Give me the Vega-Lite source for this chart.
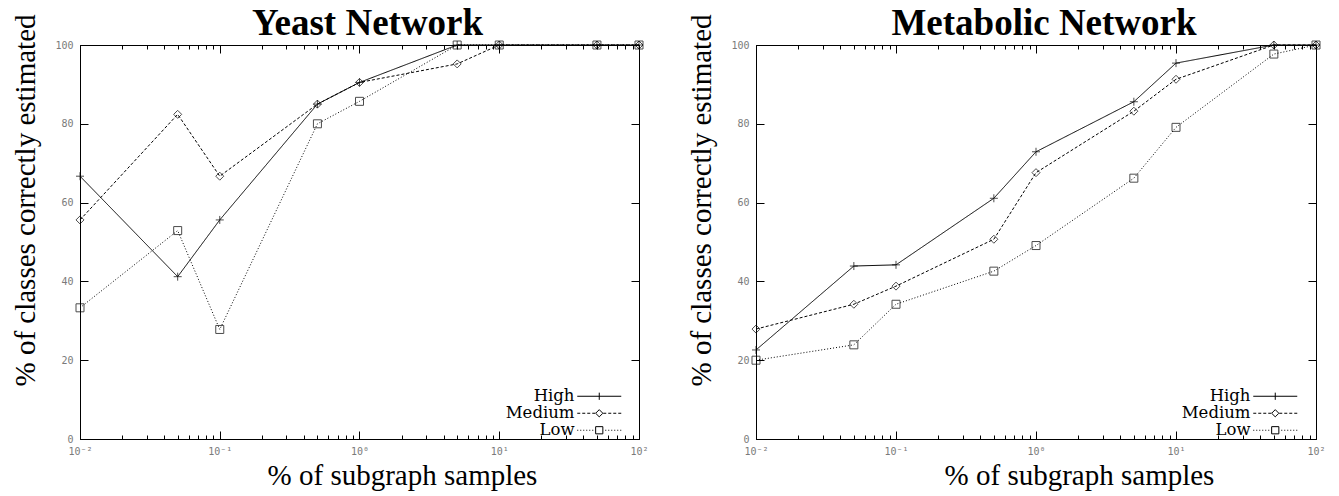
{
  "$schema": "https://vega.github.io/schema/vega-lite/v6.json",
  "padding": {"left": 11, "top": 4, "right": 0, "bottom": 0},
  "background": "white",
  "datasets": {
    "yeast": [
      {"pct": 0.01, "acc": 66.7, "level": "High"},
      {"pct": 0.05, "acc": 41.2, "level": "High"},
      {"pct": 0.1, "acc": 55.6, "level": "High"},
      {"pct": 0.5, "acc": 85.0, "level": "High"},
      {"pct": 1, "acc": 90.5, "level": "High"},
      {"pct": 5, "acc": 100, "level": "High"},
      {"pct": 10, "acc": 100, "level": "High"},
      {"pct": 50, "acc": 100, "level": "High"},
      {"pct": 100, "acc": 100, "level": "High"},
      {"pct": 0.01, "acc": 55.6, "level": "Medium"},
      {"pct": 0.05, "acc": 82.4, "level": "Medium"},
      {"pct": 0.1, "acc": 66.7, "level": "Medium"},
      {"pct": 0.5, "acc": 85.0, "level": "Medium"},
      {"pct": 1, "acc": 90.5, "level": "Medium"},
      {"pct": 5, "acc": 95.2, "level": "Medium"},
      {"pct": 10, "acc": 100, "level": "Medium"},
      {"pct": 50, "acc": 100, "level": "Medium"},
      {"pct": 100, "acc": 100, "level": "Medium"},
      {"pct": 0.01, "acc": 33.3, "level": "Low"},
      {"pct": 0.05, "acc": 52.9, "level": "Low"},
      {"pct": 0.1, "acc": 27.8, "level": "Low"},
      {"pct": 0.5, "acc": 80.0, "level": "Low"},
      {"pct": 1, "acc": 85.7, "level": "Low"},
      {"pct": 5, "acc": 100, "level": "Low"},
      {"pct": 10, "acc": 100, "level": "Low"},
      {"pct": 50, "acc": 100, "level": "Low"},
      {"pct": 100, "acc": 100, "level": "Low"}
    ],
    "metabolic": [
      {"pct": 0.01, "acc": 22.6, "level": "High"},
      {"pct": 0.05, "acc": 43.9, "level": "High"},
      {"pct": 0.1, "acc": 44.2, "level": "High"},
      {"pct": 0.5, "acc": 61.1, "level": "High"},
      {"pct": 1, "acc": 72.9, "level": "High"},
      {"pct": 5, "acc": 85.6, "level": "High"},
      {"pct": 10, "acc": 95.4, "level": "High"},
      {"pct": 50, "acc": 100, "level": "High"},
      {"pct": 100, "acc": 100, "level": "High"},
      {"pct": 0.01, "acc": 27.9, "level": "Medium"},
      {"pct": 0.05, "acc": 34.2, "level": "Medium"},
      {"pct": 0.1, "acc": 38.8, "level": "Medium"},
      {"pct": 0.5, "acc": 50.7, "level": "Medium"},
      {"pct": 1, "acc": 67.6, "level": "Medium"},
      {"pct": 5, "acc": 83.2, "level": "Medium"},
      {"pct": 10, "acc": 91.3, "level": "Medium"},
      {"pct": 50, "acc": 100, "level": "Medium"},
      {"pct": 100, "acc": 100, "level": "Medium"},
      {"pct": 0.01, "acc": 20.0, "level": "Low"},
      {"pct": 0.05, "acc": 23.9, "level": "Low"},
      {"pct": 0.1, "acc": 34.2, "level": "Low"},
      {"pct": 0.5, "acc": 42.6, "level": "Low"},
      {"pct": 1, "acc": 49.1, "level": "Low"},
      {"pct": 5, "acc": 66.2, "level": "Low"},
      {"pct": 10, "acc": 79.1, "level": "Low"},
      {"pct": 50, "acc": 97.7, "level": "Low"},
      {"pct": 100, "acc": 100, "level": "Low"}
    ]
  },
  "config": {
    "view": {"stroke": "black", "strokeWidth": 1},
    "axis": {
      "grid": false,
      "domainColor": "black",
      "domainWidth": 1,
      "tickColor": "black",
      "tickWidth": 1,
      "labelColor": "#7a7a7a",
      "labelFont": "DejaVu Sans Mono",
      "labelFontSize": 10,
      "titleFont": "Liberation Serif",
      "titleFontSize": 29,
      "titleFontWeight": "normal",
      "titleColor": "black"
    },
    "title": {"font": "Liberation Serif", "fontSize": 37, "fontWeight": "bold", "color": "black", "offset": -29}
  },
  "spacing": 32,
  "resolve": {"scale": {"shape": "independent", "strokeDash": "independent"}, "legend": {"shape": "independent"}},
  "hconcat": [
    {
      "title": {"text": "Yeast Network", "dx": 8, "font": "Liberation Serif"},
      "width": 559,
      "height": 394,
      "data": {"name": "yeast"},
      "layer": [
        {
          "mark": {"type": "line", "color": "black", "strokeWidth": 1},
          "encoding": {
            "x": {"field": "pct", "type": "quantitative", "scale": {"type": "log", "domain": [0.01, 100]}, "title": "% of subgraph samples",
              "axis": {"values": [0.01,0.02,0.03,0.04,0.05,0.06,0.07,0.08,0.09,0.1,0.2,0.3,0.4,0.5,0.6,0.7,0.8,0.9,1,2,3,4,5,6,7,8,9,10,20,30,40,50,60,70,80,90,100],
                "labelExpr": "datum.value == 0.01 ? '10⁻²' : datum.value == 0.1 ? '10⁻¹' : datum.value == 1 ? '10⁰' : datum.value == 10 ? '10¹' : datum.value == 100 ? '10²' : ''",
                "tickSize": {"condition": {"test": "datum.value == 0.01 || datum.value == 0.1 || datum.value == 1 || datum.value == 10 || datum.value == 100", "value": -8}, "value": -4},
                "labelPadding": 15, "labelOverlap": false, "labelFlush": false, "labelBound": false, "titlePadding": 1, "titleX": 322, "titleFont": "Liberation Serif"}},
            "y": {"field": "acc", "type": "quantitative", "scale": {"domain": [0, 100]}, "title": "% of classes correctly estimated",
              "axis": {"values": [0, 20, 40, 60, 80, 100], "tickSize": -8, "labelPadding": 15, "titlePadding": 14, "titleY": 155, "titleFont": "Liberation Serif"}},
            "strokeDash": {"field": "level", "type": "nominal", "scale": {"domain": ["High", "Medium", "Low"], "range": [[1, 0], [3, 2], [1, 2]]}, "legend": null}
          }
        },
        {
          "mark": {"type": "point", "filled": false, "color": "black", "strokeWidth": 1, "size": 64},
          "encoding": {
            "x": {"field": "pct", "type": "quantitative", "axis": null},
            "y": {"field": "acc", "type": "quantitative", "axis": null},
            "shape": {"field": "level", "type": "nominal", "scale": {"domain": ["High", "Medium", "Low"], "range": ["M-1,0H1M0,-1V1", "diamond", "square"]}, "legend": null}
          }
        },
        {
          "mark": {"type": "point", "filled": false, "color": "black", "strokeWidth": 1, "opacity": 0},
          "encoding": {
            "x": {"field": "pct", "type": "quantitative", "title": null,
              "axis": {"orient": "top", "labels": false, "domain": false,
                "values": [0.01,0.02,0.03,0.04,0.05,0.06,0.07,0.08,0.09,0.1,0.2,0.3,0.4,0.5,0.6,0.7,0.8,0.9,1,2,3,4,5,6,7,8,9,10,20,30,40,50,60,70,80,90,100],
                "tickSize": {"condition": {"test": "datum.value == 0.01 || datum.value == 0.1 || datum.value == 1 || datum.value == 10 || datum.value == 100", "value": -8}, "value": -4}}},
            "y": {"field": "acc", "type": "quantitative", "title": null,
              "axis": {"orient": "right", "labels": false, "domain": false, "values": [0, 20, 40, 60, 80, 100], "tickSize": -8}},
            "shape": {"field": "level", "type": "nominal",
              "scale": {"domain": ["High", "Medium", "Low"], "range": [
                "M-5.5,0H5.5M0,-0.9V0.9",
                "M-5.5,0H-4.75M-4.25,0H-3.5M-3,0H-2.25M-1.75,0H-1M1,0H1.75M2.25,0H3M3.5,0H4.25M4.75,0H5.5M-0.9,0L0,-0.9L0.9,0L0,0.9Z",
                "M-5.5,0H-5.25M-4.75,0H-4.5M-4,0H-3.75M-3.25,0H-3M-2.5,0H-2.25M-1.75,0H-1.5M1.5,0H1.75M2.25,0H2.5M3,0H3.25M3.75,0H4M4.5,0H4.75M5.25,0H5.5M-0.9,-0.9H0.9V0.9H-0.9Z"]},
              "legend": {"orient": "none", "legendX": 511, "legendY": 343, "title": null, "padding": 0,
                "labelFont": "DejaVu Serif", "labelFontSize": 16.5, "labelColor": "black", "labelAlign": "right", "labelOffset": -33, "labelLimit": 0,
                "symbolSize": 64, "symbolStrokeWidth": 1, "symbolStrokeColor": "black", "symbolFillColor": "transparent", "symbolOpacity": 1, "rowPadding": 0}}
          }
        }
      ],
      "resolve": {"scale": {"shape": "independent"}, "axis": {"x": "independent", "y": "independent"}}
    },
    {
      "title": {"text": "Metabolic Network", "dx": 8, "font": "Liberation Serif"},
      "width": 560,
      "height": 394,
      "data": {"name": "metabolic"},
      "layer": [
        {
          "mark": {"type": "line", "color": "black", "strokeWidth": 1},
          "encoding": {
            "x": {"field": "pct", "type": "quantitative", "scale": {"type": "log", "domain": [0.01, 100]}, "title": "% of subgraph samples",
              "axis": {"values": [0.01,0.02,0.03,0.04,0.05,0.06,0.07,0.08,0.09,0.1,0.2,0.3,0.4,0.5,0.6,0.7,0.8,0.9,1,2,3,4,5,6,7,8,9,10,20,30,40,50,60,70,80,90,100],
                "labelExpr": "datum.value == 0.01 ? '10⁻²' : datum.value == 0.1 ? '10⁻¹' : datum.value == 1 ? '10⁰' : datum.value == 10 ? '10¹' : datum.value == 100 ? '10²' : ''",
                "tickSize": {"condition": {"test": "datum.value == 0.01 || datum.value == 0.1 || datum.value == 1 || datum.value == 10 || datum.value == 100", "value": -8}, "value": -4},
                "labelPadding": 15, "labelOverlap": false, "labelFlush": false, "labelBound": false, "titlePadding": 1, "titleX": 323, "titleFont": "Liberation Serif"}},
            "y": {"field": "acc", "type": "quantitative", "scale": {"domain": [0, 100]}, "title": "% of classes correctly estimated",
              "axis": {"values": [0, 20, 40, 60, 80, 100], "tickSize": -8, "labelPadding": 15, "titlePadding": 14, "titleY": 155, "titleFont": "Liberation Serif"}},
            "strokeDash": {"field": "level", "type": "nominal", "scale": {"domain": ["High", "Medium", "Low"], "range": [[1, 0], [3, 2], [1, 2]]}, "legend": null}
          }
        },
        {
          "mark": {"type": "point", "filled": false, "color": "black", "strokeWidth": 1, "size": 64},
          "encoding": {
            "x": {"field": "pct", "type": "quantitative", "axis": null},
            "y": {"field": "acc", "type": "quantitative", "axis": null},
            "shape": {"field": "level", "type": "nominal", "scale": {"domain": ["High", "Medium", "Low"], "range": ["M-1,0H1M0,-1V1", "diamond", "square"]}, "legend": null}
          }
        },
        {
          "mark": {"type": "point", "filled": false, "color": "black", "strokeWidth": 1, "opacity": 0},
          "encoding": {
            "x": {"field": "pct", "type": "quantitative", "title": null,
              "axis": {"orient": "top", "labels": false, "domain": false,
                "values": [0.01,0.02,0.03,0.04,0.05,0.06,0.07,0.08,0.09,0.1,0.2,0.3,0.4,0.5,0.6,0.7,0.8,0.9,1,2,3,4,5,6,7,8,9,10,20,30,40,50,60,70,80,90,100],
                "tickSize": {"condition": {"test": "datum.value == 0.01 || datum.value == 0.1 || datum.value == 1 || datum.value == 10 || datum.value == 100", "value": -8}, "value": -4}}},
            "y": {"field": "acc", "type": "quantitative", "title": null,
              "axis": {"orient": "right", "labels": false, "domain": false, "values": [0, 20, 40, 60, 80, 100], "tickSize": -8}},
            "shape": {"field": "level", "type": "nominal",
              "scale": {"domain": ["High", "Medium", "Low"], "range": [
                "M-5.5,0H5.5M0,-0.9V0.9",
                "M-5.5,0H-4.75M-4.25,0H-3.5M-3,0H-2.25M-1.75,0H-1M1,0H1.75M2.25,0H3M3.5,0H4.25M4.75,0H5.5M-0.9,0L0,-0.9L0.9,0L0,0.9Z",
                "M-5.5,0H-5.25M-4.75,0H-4.5M-4,0H-3.75M-3.25,0H-3M-2.5,0H-2.25M-1.75,0H-1.5M1.5,0H1.75M2.25,0H2.5M3,0H3.25M3.75,0H4M4.5,0H4.75M5.25,0H5.5M-0.9,-0.9H0.9V0.9H-0.9Z"]},
              "legend": {"orient": "none", "legendX": 511, "legendY": 343, "title": null, "padding": 0,
                "labelFont": "DejaVu Serif", "labelFontSize": 16.5, "labelColor": "black", "labelAlign": "right", "labelOffset": -33, "labelLimit": 0,
                "symbolSize": 64, "symbolStrokeWidth": 1, "symbolStrokeColor": "black", "symbolFillColor": "transparent", "symbolOpacity": 1, "rowPadding": 0}}
          }
        }
      ],
      "resolve": {"scale": {"shape": "independent"}, "axis": {"x": "independent", "y": "independent"}}
    }
  ]
}
